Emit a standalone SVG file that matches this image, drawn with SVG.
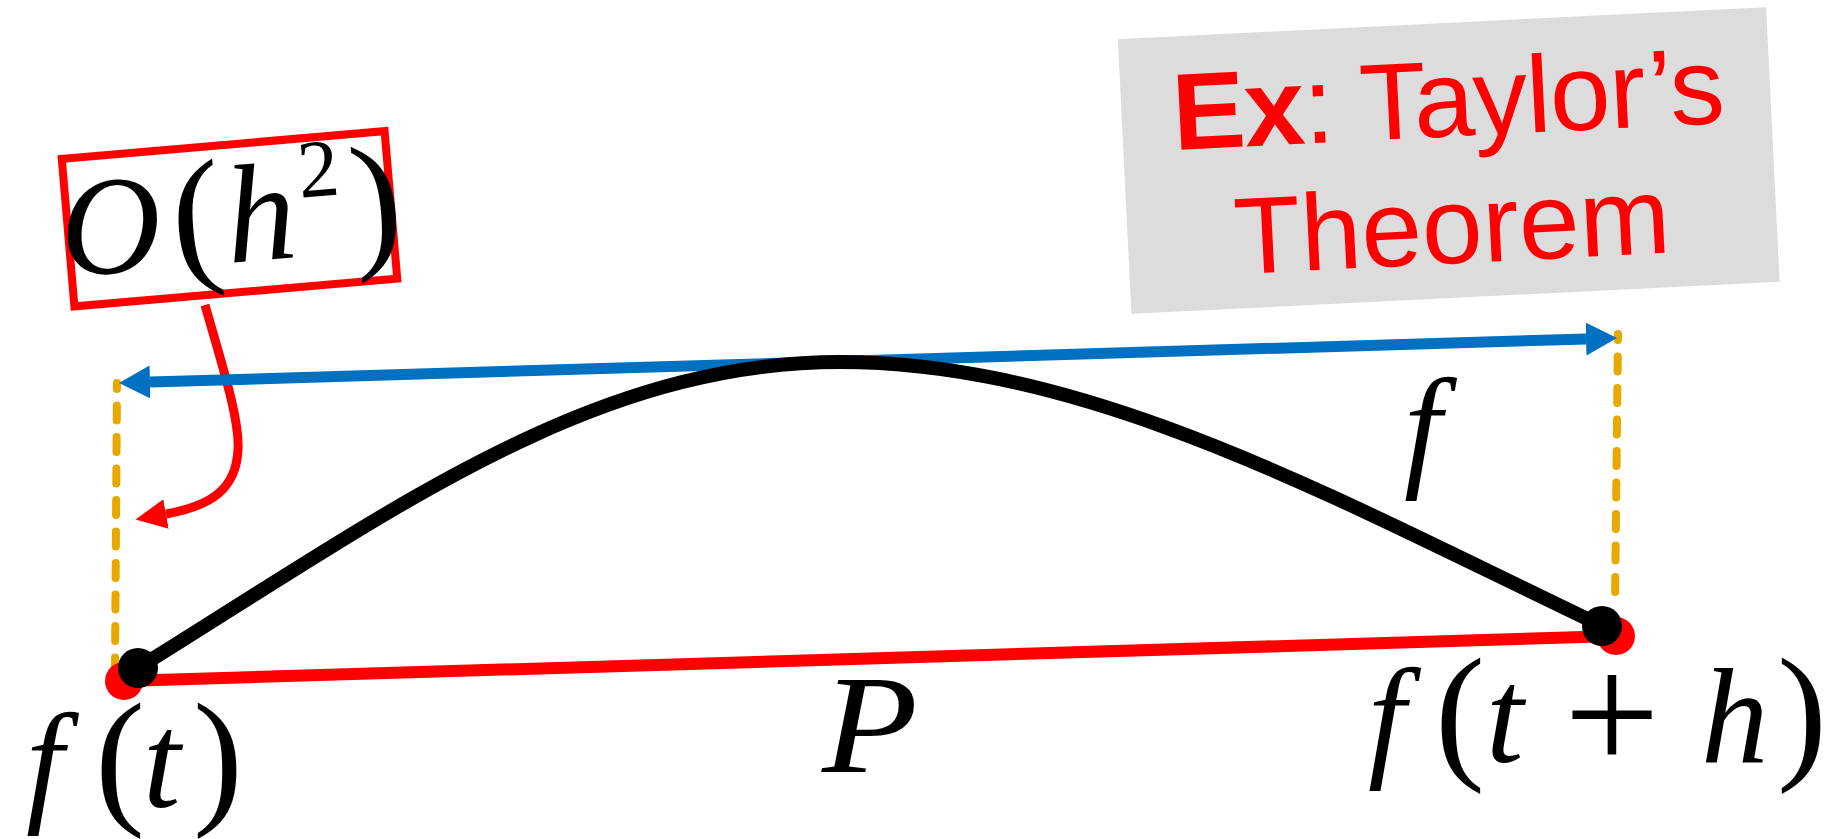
<svg xmlns="http://www.w3.org/2000/svg" width="1829" height="839" viewBox="0 0 1829 839">
<style>
  .math{font-family:"Liberation Serif","Times New Roman",serif;fill:#000;}
  .it{font-style:italic;}
  .dash{fill:none;stroke:#E8A800;stroke-width:8;stroke-linecap:round;stroke-dasharray:15 16.5;stroke-dashoffset:9;}
  .sans{font-family:"Liberation Sans",Arial,Helvetica,sans-serif;fill:#FF0000;font-size:109px;}
</style>
<defs>
  <marker id="blueHead" markerUnits="userSpaceOnUse" markerWidth="34" markerHeight="36" refX="0" refY="17" orient="auto-start-reverse" viewBox="0 0 34 36">
    <path d="M0,0.5 L31,17 L0,33.5 z" fill="#0070C0"/>
  </marker>
  <marker id="redHead" markerUnits="userSpaceOnUse" markerWidth="34" markerHeight="32" refX="0" refY="16" orient="auto" viewBox="0 0 34 32">
    <path d="M0,1 L31,16 L0,31 z" fill="#FF0000"/>
  </marker>
</defs>

<g id="connectors">
  <path id="guide-left" class="dash" d="M117,383 L115,668"/>
  <path id="guide-right" class="dash" d="M1618,334 L1615,605"/>
</g>

<g id="secant-P">
  <line x1="124" y1="681" x2="1616" y2="636" stroke="#FF0000" stroke-width="12"/>
  <circle cx="124" cy="681" r="19" fill="#FF0000"/>
  <circle cx="1616" cy="636" r="19" fill="#FF0000"/>
</g>

<g id="connectors-arrows">
  <path id="err-arrow" d="M205,305 C222,365 240,420 238,450 C236,490 210,506 166,514" fill="none" stroke="#FF0000" stroke-width="9" marker-end="url(#redHead)"/>
  <line id="span-arrow" x1="150" y1="382.1" x2="1586" y2="338.9" stroke="#0070C0" stroke-width="11" marker-start="url(#blueHead)" marker-end="url(#blueHead)"/>
</g>

<g id="curve-f">
  <path d="M138,668 C388,513 590,362 840,362 C1090,362 1332,497 1602,626" fill="none" stroke="#000" stroke-width="14"/>
  <circle cx="138" cy="668" r="20" fill="#000"/>
  <circle cx="1602" cy="626" r="20" fill="#000"/>
</g>

<g id="label-f">
  <text class="math it" x="1404" y="472" font-size="135">f</text>
</g>

<g id="label-ft">
  <text class="math" y="807" font-size="135"><tspan class="it" x="26">f</tspan><tspan x="95" font-size="150">(</tspan><tspan class="it" x="143">t</tspan><tspan x="193" font-size="150">)</tspan></text>
</g>

<g id="label-fth">
  <text class="math" y="762" font-size="135"><tspan class="it" x="1368">f</tspan><tspan x="1435" font-size="150">(</tspan><tspan class="it" x="1486">t</tspan><tspan x="1564" y="771" font-size="170">+</tspan><tspan class="it" x="1701" y="762">h</tspan><tspan x="1777" font-size="150">)</tspan></text>
</g>

<g id="label-P">
  <text class="math it" x="822" y="772" font-size="140" textLength="96" lengthAdjust="spacingAndGlyphs">P</text>
</g>

<g id="note-error" transform="translate(229.5,218.75) rotate(-4.9)">
  <rect x="-162" y="-74" width="324" height="148" fill="none" stroke="#FF0000" stroke-width="8"/>
  <text class="math" y="44" font-size="140"><tspan class="it" x="-170">O</tspan><tspan x="-58" font-size="152">(</tspan><tspan class="it" x="-4">h</tspan><tspan x="72" y="-15" font-size="82">2</tspan><tspan x="122" y="44" font-size="152">)</tspan></text>
</g>

<g id="note-taylor" transform="translate(1448.75,160.5) rotate(-2.83)">
  <rect x="-324.5" y="-137.5" width="649" height="275" fill="#DCDCDC"/>
  <text class="sans" x="2" y="-24" text-anchor="middle" letter-spacing="-1"><tspan font-weight="bold">Ex</tspan>: Taylor’s</text>
  <text class="sans" x="0" y="103" text-anchor="middle">Theorem</text>
</g>
</svg>
